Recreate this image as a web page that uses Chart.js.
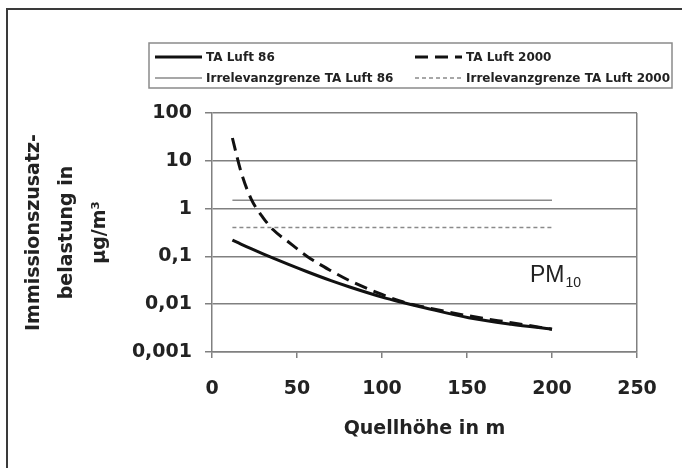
<!DOCTYPE html>
<html>
<head>
<meta charset="utf-8">
<script src="https://cdn.jsdelivr.net/npm/chart.js@4.4.1/dist/chart.umd.min.js"></script>
<style>
  html, body { margin: 0; padding: 0; background: #ffffff; }
  #wrap { position: relative; width: 682px; height: 468px; overflow: hidden; }
  #frame {
    position: absolute; left: 6px; top: 8px; right: -4px; bottom: -4px;
    border-top: 2px solid #3a3a3a; border-left: 2px solid #3a3a3a;
    pointer-events: none;
  }
  canvas { position: absolute; left: 0; top: 0; }
</style>
</head>
<body>
<div id="wrap">
  <canvas id="pmChart" width="682" height="468"></canvas>
  <div id="frame"></div>
</div>
<script>
/*
----------------------
Data (PM10, Quellhöhe vs. Zusatzbelastung)
----------------------
*/
var source_heights = [12, 17, 23, 30, 36, 45, 56, 70, 81, 100, 111, 125, 151, 176, 200];
var ta_luft_86 = [0.22, 0.181, 0.145, 0.113, 0.092, 0.068, 0.0477, 0.0311, 0.0229, 0.0141, 0.0111, 0.0084, 0.0052, 0.0038, 0.003];
var ta_luft_2000 = [30, 6, 1.6, 0.65, 0.36, 0.2, 0.1, 0.05, 0.031, 0.016, 0.0115, 0.0087, 0.0057, 0.0041, 0.003];

var limit_heights = [12, 200];
var limit_86 = [1.5, 1.5];
var limit_2000 = [0.4, 0.4];

var series_labels = [
  "TA Luft 86",
  "TA Luft 2000",
  "Irrelevanzgrenze TA Luft 86",
  "Irrelevanzgrenze TA Luft 2000"
];

var y_ticks = [0.001, 0.01, 0.1, 1, 10, 100];
var y_tick_labels = ["0,001", "0,01", "0,1", "1", "10", "100"];
var x_min = 0;
var x_max = 250;
var x_step = 50;

var x_title = "Quellhöhe in m";
var y_title = ["Immissionszusatz-", "belastung in", "µg/m³"];
var pm_label = { x: 187, y: 0.029, main: "PM", sub: "10" };

function to_points(xs, ys) {
  return xs.map(function (x, i) {
    return { x: x, y: ys[i] };
  });
}

var axis_font = { family: "DejaVu Sans", size: 19, weight: "bold" };
var grid_grey = "#808080";

/*
----------------------
Legend box drawn on the canvas (two columns, two rows)
----------------------
*/
var legend_box_plugin = {
  id: "legend_box",
  afterDraw: function (chart) {
    var ctx = chart.ctx;
    var box = { left: 149, top: 43, right: 672, bottom: 88 };
    var slots = [
      { x: 155, y: 57 },
      { x: 415, y: 57 },
      { x: 155, y: 78 },
      { x: 415, y: 78 }
    ];
    ctx.save();
    ctx.strokeStyle = "#8a8a8a";
    ctx.lineWidth = 1.5;
    ctx.strokeRect(box.left, box.top, box.right - box.left, box.bottom - box.top);

    chart.data.datasets.forEach(function (dataset, i) {
      var slot = slots[i];
      ctx.save();
      ctx.strokeStyle = dataset.borderColor;
      ctx.lineWidth = dataset.borderWidth;
      ctx.setLineDash(dataset.borderDash || []);
      ctx.beginPath();
      ctx.moveTo(slot.x, slot.y);
      ctx.lineTo(slot.x + 47, slot.y);
      ctx.stroke();
      ctx.restore();

      ctx.fillStyle = "#222222";
      ctx.font = "bold 12px 'DejaVu Sans'";
      ctx.textBaseline = "middle";
      ctx.textAlign = "left";
      ctx.fillText(dataset.label, slot.x + 51, slot.y + 1);
    });
    ctx.restore();
  }
};

/*
----------------------
PM10 label inside the plot, placed through the scales
----------------------
*/
var pm_label_plugin = {
  id: "pm_label",
  afterDatasetsDraw: function (chart) {
    var ctx = chart.ctx;
    var px = chart.scales.x.getPixelForValue(pm_label.x);
    var py = chart.scales.y.getPixelForValue(pm_label.y);
    ctx.save();
    ctx.fillStyle = "#222222";
    ctx.textBaseline = "alphabetic";
    ctx.textAlign = "left";
    ctx.font = "23px 'Liberation Sans'";
    ctx.fillText(pm_label.main, px, py);
    var w = ctx.measureText(pm_label.main).width;
    ctx.font = "14px 'Liberation Sans'";
    ctx.fillText(pm_label.sub, px + w + 1, py + 5);
    ctx.restore();
  }
};

var canvas = document.getElementById("pmChart");
var context = canvas.getContext("2d");

var pm_chart = new Chart(context, {
  type: "line",
  data: {
    datasets: [
      {
        label: series_labels[0],
        data: to_points(source_heights, ta_luft_86),
        borderColor: "#111111",
        borderWidth: 3,
        pointRadius: 0,
        cubicInterpolationMode: "monotone",
        fill: false
      },
      {
        label: series_labels[1],
        data: to_points(source_heights, ta_luft_2000),
        borderColor: "#111111",
        borderWidth: 3,
        borderDash: [13, 7],
        pointRadius: 0,
        cubicInterpolationMode: "monotone",
        fill: false
      },
      {
        label: series_labels[2],
        data: to_points(limit_heights, limit_86),
        borderColor: "#8a8a8a",
        borderWidth: 1.5,
        pointRadius: 0,
        fill: false
      },
      {
        label: series_labels[3],
        data: to_points(limit_heights, limit_2000),
        borderColor: "#8a8a8a",
        borderWidth: 1.5,
        borderDash: [4, 3],
        pointRadius: 0,
        fill: false
      }
    ]
  },
  options: {
    responsive: false,
    animation: false,
    layout: {
      padding: { left: 8, top: 113, right: 45, bottom: 24 }
    },
    scales: {
      x: {
        type: "linear",
        min: x_min,
        max: x_max,
        ticks: {
          stepSize: x_step,
          font: axis_font,
          color: "#222222",
          padding: 20,
          maxRotation: 0
        },
        grid: {
          drawOnChartArea: true,
          color: function (c) {
            return c.tick && c.tick.value === x_max ? grid_grey : "rgba(0,0,0,0)";
          },
          tickColor: grid_grey,
          tickLength: 6,
          lineWidth: 1.5
        },
        border: { display: true, color: grid_grey, width: 1.5 },
        title: {
          display: true,
          text: x_title,
          font: axis_font,
          color: "#222222",
          padding: { top: 4, bottom: 4 }
        },
        afterFit: function (scale) {
          scale.height = 92;
        }
      },
      y: {
        type: "logarithmic",
        min: y_ticks[0],
        max: y_ticks[y_ticks.length - 1],
        afterBuildTicks: function (scale) {
          scale.ticks = y_ticks.map(function (v) {
            return { value: v };
          });
        },
        ticks: {
          font: axis_font,
          color: "#222222",
          padding: 13,
          callback: function (value) {
            var idx = y_ticks.indexOf(value);
            return idx >= 0 ? y_tick_labels[idx] : "";
          }
        },
        grid: {
          color: grid_grey,
          lineWidth: 1.5,
          tickLength: 7
        },
        border: { display: true, color: grid_grey, width: 1.5 },
        title: {
          display: true,
          text: y_title,
          font: { family: "DejaVu Sans", size: 19, weight: "bold", lineHeight: 1.72 },
          color: "#222222",
          padding: { top: 10, bottom: 0 }
        },
        afterFit: function (scale) {
          scale.width = 204;
        }
      }
    },
    plugins: {
      legend: { display: false },
      tooltip: { enabled: false }
    }
  },
  plugins: [legend_box_plugin, pm_label_plugin]
});
</script>
</body>
</html>
